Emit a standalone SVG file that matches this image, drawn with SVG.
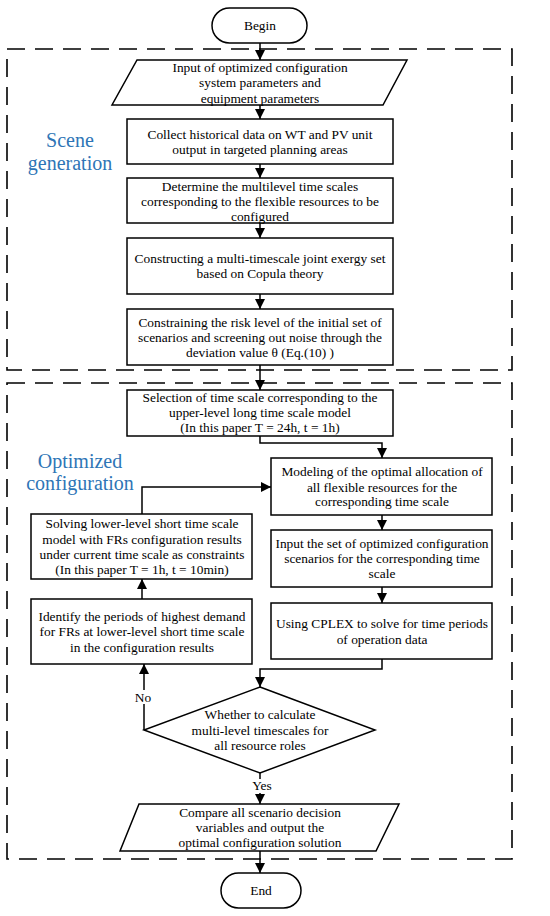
<svg xmlns="http://www.w3.org/2000/svg" width="550" height="916" viewBox="0 0 550 916">
<defs>
<style>
.n{fill:#fff;stroke:#000;stroke-width:1.5}
.t{font-family:"Liberation Serif","Times New Roman",serif;font-size:13.4px;fill:#000;text-anchor:middle}
.b{font-family:"Liberation Serif","Times New Roman",serif;font-size:20px;fill:#2e75b6;text-anchor:middle}
.c{fill:none;stroke:#000;stroke-width:1.5}
.d{fill:none;stroke:#000;stroke-width:1.6;stroke-dasharray:18 10}
</style>
<marker id="ah" markerUnits="userSpaceOnUse" markerWidth="11" markerHeight="11" refX="10" refY="5" orient="auto">
<path d="M0,0 L10,5 L0,10 z" fill="#000"/>
</marker>
</defs>
<rect width="550" height="916" fill="#fff"/>
<g id="regions">
<rect class="d" x="7" y="49" width="505" height="321"/>
<rect class="d" x="7" y="383" width="505" height="476"/>
<text class="b" x="70" y="147">Scene</text>
<text class="b" x="70" y="170">generation</text>
<text class="b" x="80" y="468">Optimized</text>
<text class="b" x="80" y="490">configuration</text>
</g>
<g id="connectors">
<path class="c" d="M260,43 V60" marker-end="url(#ah)"/>
<path class="c" d="M260,105 V119" marker-end="url(#ah)"/>
<path class="c" d="M260,164 V178" marker-end="url(#ah)"/>
<path class="c" d="M260,223 V238" marker-end="url(#ah)"/>
<path class="c" d="M260,294 V309" marker-end="url(#ah)"/>
<path class="c" d="M260,365 V390" marker-end="url(#ah)"/>
<path class="c" d="M260,436 V443 H382 V458" marker-end="url(#ah)"/>
<path class="c" d="M382,515 V530" marker-end="url(#ah)"/>
<path class="c" d="M382,587 V603" marker-end="url(#ah)"/>
<path class="c" d="M382,659 V669 H260 V687" marker-end="url(#ah)"/>
<path class="c" d="M144,730 V664" marker-end="url(#ah)"/>
<path class="c" d="M142,599 V579" marker-end="url(#ah)"/>
<path class="c" d="M142,514 V487 H271" marker-end="url(#ah)"/>
<path class="c" d="M260,773 V804" marker-end="url(#ah)"/>
<path class="c" d="M260,851 V873" marker-end="url(#ah)"/>
<rect x="134" y="690" width="20" height="14" fill="#fff"/>
<text class="t" x="143" y="702">No</text>
<rect x="249" y="779" width="24" height="14" fill="#fff"/>
<text class="t" x="262" y="790">Yes</text>
</g>
<g id="begin">
<rect class="n" x="212" y="8" width="95" height="35" rx="17.5"/>
<text class="t" x="260" y="30">Begin</text>
</g>
<g id="input">
<polygon class="n" points="137,60 407,60 383,105 112,105"/>
<text class="t" x="260" y="72">Input of optimized configuration</text>
<text class="t" x="260" y="87">system parameters and</text>
<text class="t" x="260" y="103">equipment parameters</text>
</g>
<g id="collect">
<rect class="n" x="127" y="119" width="266" height="45"/>
<text class="t" x="260" y="139">Collect historical data on WT and PV unit</text>
<text class="t" x="260" y="154">output in targeted planning areas</text>
</g>
<g id="determine">
<rect class="n" x="127" y="178" width="266" height="45"/>
<text class="t" x="260" y="191">Determine the multilevel time scales</text>
<text class="t" x="260" y="206">corresponding to the flexible resources to be</text>
<text class="t" x="260" y="221">configured</text>
</g>
<g id="constructing">
<rect class="n" x="127" y="238" width="266" height="56"/>
<text class="t" x="260" y="263">Constructing a multi-timescale joint exergy set</text>
<text class="t" x="260" y="278">based on Copula theory</text>
</g>
<g id="constraining">
<rect class="n" x="127" y="309" width="266" height="56"/>
<text class="t" x="260" y="327">Constraining the risk level of the initial set of</text>
<text class="t" x="260" y="342">scenarios and screening out noise through the</text>
<text class="t" x="260" y="357">deviation value θ (Eq.(10) )</text>
</g>
<g id="selection">
<rect class="n" x="127" y="390" width="266" height="46"/>
<text class="t" x="260" y="402">Selection of time scale corresponding to the</text>
<text class="t" x="260" y="417">upper-level long time scale model</text>
<text class="t" x="260" y="432">(In this paper T = 24h, t = 1h)</text>
</g>
<g id="modeling">
<rect class="n" x="271" y="458" width="221" height="57"/>
<text class="t" x="382" y="476">Modeling of the optimal allocation of</text>
<text class="t" x="382" y="492">all flexible resources for the</text>
<text class="t" x="382" y="506">corresponding time scale</text>
</g>
<g id="inputset">
<rect class="n" x="271" y="530" width="221" height="57"/>
<text class="t" x="382" y="548">Input the set of optimized configuration</text>
<text class="t" x="382" y="563">scenarios for the corresponding time</text>
<text class="t" x="382" y="578">scale</text>
</g>
<g id="cplex">
<rect class="n" x="271" y="603" width="221" height="56"/>
<text class="t" x="382" y="628">Using CPLEX to solve for time periods</text>
<text class="t" x="382" y="644">of operation data</text>
</g>
<g id="solving">
<rect class="n" x="31" y="514" width="221" height="65"/>
<text class="t" x="142" y="528">Solving lower-level short time scale</text>
<text class="t" x="142" y="544">model with  FRs configuration results</text>
<text class="t" x="142" y="559">under current time scale as constraints</text>
<text class="t" x="142" y="574">(In this paper T = 1h, t = 10min)</text>
</g>
<g id="identify">
<rect class="n" x="31" y="599" width="221" height="65"/>
<text class="t" x="142" y="621">Identify the periods of highest demand</text>
<text class="t" x="142" y="636">for FRs at lower-level short time scale</text>
<text class="t" x="142" y="652">in the configuration results</text>
</g>
<g id="decision">
<polygon class="n" points="260,687 375,730 260,773 144,730"/>
<text class="t" x="260" y="719">Whether to calculate</text>
<text class="t" x="260" y="735">multi-level timescales for</text>
<text class="t" x="260" y="750">all resource roles</text>
</g>
<g id="output">
<polygon class="n" points="139,804 399,804 376,851 120,851"/>
<text class="t" x="260" y="817">Compare all scenario decision</text>
<text class="t" x="260" y="832">variables and output the</text>
<text class="t" x="260" y="847">optimal configuration solution</text>
</g>
<g id="end">
<rect class="n" x="221" y="873" width="80" height="35" rx="17.5"/>
<text class="t" x="261" y="895">End</text>
</g>
</svg>
